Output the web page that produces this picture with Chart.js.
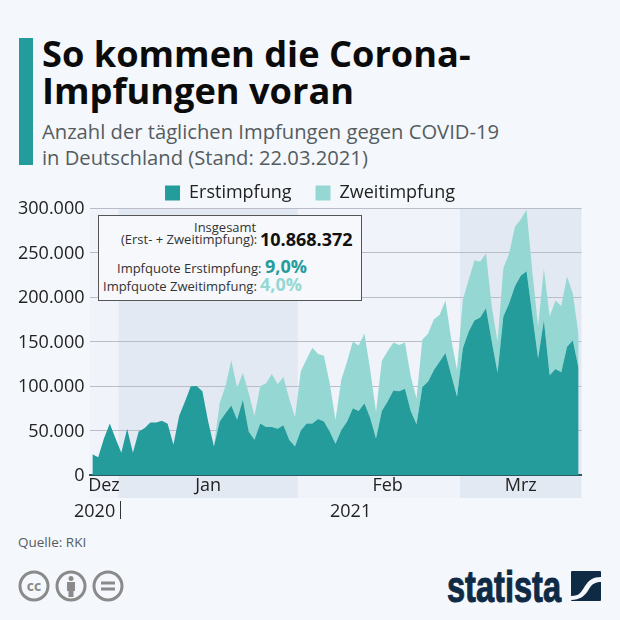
<!DOCTYPE html>
<html>
<head>
    <title>So kommen die Corona-Impfungen voran</title>
    <script src="https://cdnjs.cloudflare.com/ajax/libs/Chart.js/4.4.1/chart.umd.min.js"></script>
    <style>
        body {
            margin: 0;
            width: 620px;
            height: 620px;
            position: relative;
            overflow: hidden;
            background-color: #f4f7fb;
            font-family: "Open Sans", sans-serif;
            color: #111;
        }
        .abs { position: absolute; white-space: nowrap; }
        #bar { left: 19px; top: 38px; width: 14px; height: 127px; background: #239c9b; }
        #title { left: 42px; top: 35px; font-size: 36.2px; line-height: 37px; font-weight: 700; color: #0b0b0b; }
        #subtitle { left: 42px; top: 118px; font-size: 20.2px; line-height: 26px; color: #555c60; }
        #chart { position: absolute; left: 0; top: 160px; }
        #infobox { left: 98px; top: 215px; width: 262px; height: 84px; background: #f6f8fb; border: 1px solid #555; }
        #infobox span.t { position: absolute; white-space: nowrap; font-size: 13px; line-height: 18px; color: #333; }
        #infobox b { position: absolute; white-space: nowrap; font-size: 18px; line-height: 24px; }
        .year { font-size: 18px; line-height: 24px; color: #222; }
        #source { left: 18px; top: 533px; font-size: 13.5px; color: #555c60; }
        #logoText { left: 447px; top: 561px; font-family: "Liberation Sans", sans-serif; font-weight: 700; font-size: 44px; line-height: 52px; color: #0f2a45; transform: scaleX(0.74); transform-origin: left top; -webkit-text-stroke: 1px #0f2a45; }
    </style>
</head>
<body>
    <div class="abs" id="bar"></div>
    <div class="abs" id="title">So kommen die Corona-<br>Impfungen voran</div>
    <div class="abs" id="subtitle">Anzahl der täglichen Impfungen gegen COVID-19<br>in Deutschland (Stand: 22.03.2021)</div>

    <canvas id="chart" width="620" height="365"></canvas>

    <div class="abs" id="infobox">
        <span class="t" style="left:95px; top:2px;">Insgesamt</span>
        <span class="t" style="left:22px; top:14px;">(Erst- + Zweitimpfung):</span>
        <b style="left:161px; top:11px; color:#111;">10.868.372</b>
        <span class="t" style="left:18px; top:43px;">Impfquote Erstimpfung:</span>
        <b style="left:166px; top:38px; color:#239c9b;">9,0%</b>
        <span class="t" style="left:4px; top:61px;">Impfquote Zweitimpfung:</span>
        <b style="left:161px; top:56px; color:#95d8d3;">4,0%</b>
    </div>

    <div class="abs year" style="left:74px; top:498px;">2020</div>
    <div class="abs" style="left:120px; top:501px; width:1px; height:18px; background:#333;"></div>
    <div class="abs year" style="left:330px; top:498px;">2021</div>

    <div class="abs" id="source">Quelle: RKI</div>

    <svg class="abs" style="left:17px; top:569px;" width="110" height="34" viewBox="0 0 110 34">
        <g fill="none" stroke="#8a8a8a" stroke-width="3">
            <circle cx="17" cy="17" r="14"/>
            <circle cx="54" cy="17" r="14"/>
            <circle cx="91" cy="17" r="14"/>
        </g>
        <text x="17" y="22" text-anchor="middle" font-family="Open Sans" font-weight="700" font-size="14" fill="#8a8a8a">cc</text>
        <g fill="#8a8a8a">
            <circle cx="54" cy="9.5" r="2.5"/>
            <rect x="50" y="13" width="8" height="9"/>
            <rect x="51.5" y="20" width="5" height="8"/>
            <rect x="84" y="12.5" width="14" height="3"/>
            <rect x="84" y="18.5" width="14" height="3"/>
        </g>
    </svg>
    <div class="abs" id="logoText">statista</div>
    <svg class="abs" style="left:571px; top:571px;" width="30" height="30" viewBox="0 0 30 30">
        <rect width="30" height="30" rx="1" fill="#0f2a45"/>
        <path d="M0 25 C9 25 10 21 14 15 C18 9 22 6 30 6 L30 11 C24 11 21 13 18 18 C14 25 9 29 0 29 Z" fill="#f4f7fb"/>
    </svg>

    <script>
        const dayLabels = [
            '27.12.', '28.12.', '29.12.', '30.12.', '31.12.',
            '01.01.', '02.01.', '03.01.', '04.01.', '05.01.', '06.01.', '07.01.', '08.01.', '09.01.', '10.01.', '11.01.',
            '12.01.', '13.01.', '14.01.', '15.01.', '16.01.', '17.01.', '18.01.', '19.01.', '20.01.', '21.01.', '22.01.',
            '23.01.', '24.01.', '25.01.', '26.01.', '27.01.', '28.01.', '29.01.', '30.01.', '31.01.',
            '01.02.', '02.02.', '03.02.', '04.02.', '05.02.', '06.02.', '07.02.', '08.02.', '09.02.', '10.02.', '11.02.',
            '12.02.', '13.02.', '14.02.', '15.02.', '16.02.', '17.02.', '18.02.', '19.02.', '20.02.', '21.02.', '22.02.',
            '23.02.', '24.02.', '25.02.', '26.02.', '27.02.', '28.02.',
            '01.03.', '02.03.', '03.03.', '04.03.', '05.03.', '06.03.', '07.03.', '08.03.', '09.03.', '10.03.', '11.03.',
            '12.03.', '13.03.', '14.03.', '15.03.', '16.03.', '17.03.', '18.03.', '19.03.', '20.03.', '21.03.'
        ];

        const erstimpfung = [
            23300, 20000, 41000, 58000, 41000, 25000, 52000, 25000, 49000, 52600,
            59000, 59000, 61000, 57500, 34000, 66500, 82700, 99600, 100000, 94000,
            60000, 32000, 60000, 69500, 78000, 62000, 84600, 49000, 39500, 58000,
            54000, 54000, 52000, 56000, 39500, 32000, 50000, 58000, 58000, 63000,
            60000, 49000, 35000, 50600, 60000, 75000, 72000, 80600, 64000, 41000,
            72000, 82500, 95000, 94000, 97000, 72000, 57000, 99000, 105000, 118000,
            127500, 137000, 112500, 88000, 142500, 161000, 173600, 177000, 187500, 150000,
            115000, 178000, 193000, 212000, 224000, 229000, 180000, 131000, 174000, 112000,
            119000, 115500, 144000, 151000, 120000
        ];

        const zweitimpfung = [
            0, 0, 0, 0, 0, 0, 0, 0, 0, 0,
            0, 0, 0, 0, 0, 0, 0, 0, 0, 0,
            0, 1000, 21000, 30500, 51000, 36000, 30000, 43000, 27000, 41600,
            49000, 59500, 50000, 54000, 46500, 33000, 66500, 72000, 85000, 73000,
            74000, 54000, 27000, 56400, 67500, 75000, 73500, 78400, 54000, 30000,
            56000, 56500, 54000, 52000, 52000, 38600, 29000, 53000, 54000, 57000,
            52500, 59000, 39500, 30000, 54500, 58000, 67400, 63000, 61500, 39000,
            35000, 54500, 56000, 67000, 63000, 69000, 49000, 36000, 58000, 66000,
            77000, 74500, 79000, 53000, 37500
        ];

        const yTicks = [0, 50000, 100000, 150000, 200000, 250000, 300000];
        const monthTicks = { '29.12.': 'Dez', '16.01.': 'Jan', '16.02.': 'Feb', '11.03.': 'Mrz' };
        const monthBands = [
            { from: '27.12.', to: '01.01.', color: '#f0f3fa' },
            { from: '01.01.', to: '01.02.', color: '#e3e9f2' },
            { from: '01.02.', to: '01.03.', color: '#f0f3fa' },
            { from: '01.03.', to: null, color: '#e3e9f2' }
        ];

        // month backgrounds, they reach below the axis through the labels
        const bandPlugin = {
            id: 'monthBands',
            beforeDraw(chart) {
                const { ctx, chartArea, scales } = chart;
                monthBands.forEach(band => {
                    const x0 = band.from === dayLabels[0] ? chartArea.left
                        : scales.x.getPixelForValue(dayLabels.indexOf(band.from) - 0.5);
                    const x1 = band.to ? scales.x.getPixelForValue(dayLabels.indexOf(band.to) - 0.5) : chartArea.right;
                    ctx.fillStyle = band.color;
                    ctx.fillRect(x0, chartArea.top, x1 - x0, chartArea.bottom - chartArea.top + 23);
                });
            }
        };

        // wide gap between the legend items without a tall legend, centred on the page
        const legendFitPlugin = {
            id: 'legendFit',
            beforeInit(chart) {
                const fit = chart.legend.fit;
                chart.legend.fit = function () {
                    fit.call(this);
                    this.height = 48;
                };
            },
            afterLayout(chart) {
                chart.legend.left = 0;
                chart.legend.right = chart.width;
            }
        };

        new Chart(document.getElementById('chart'), {
            type: 'line',
            data: {
                labels: dayLabels,
                datasets: [{
                    label: 'Erstimpfung',
                    data: erstimpfung,
                    backgroundColor: '#239c9b',
                    borderWidth: 0,
                    pointRadius: 0,
                    fill: 'origin'
                }, {
                    label: 'Zweitimpfung',
                    data: zweitimpfung,
                    backgroundColor: '#95d8d3',
                    borderWidth: 0,
                    pointRadius: 0,
                    fill: '-1'
                }]
            },
            options: {
                responsive: false,
                animation: false,
                layout: { padding: { left: 0, right: 38.5, top: 0, bottom: 0 } },
                plugins: {
                    tooltip: { enabled: false },
                    legend: {
                        labels: {
                            boxWidth: 15,
                            boxHeight: 15,
                            padding: 24,
                            color: '#222',
                            font: { family: 'Open Sans', size: 18 }
                        }
                    }
                },
                scales: {
                    x: {
                        offset: true,
                        grid: { display: false, drawTicks: false },
                        border: { color: '#2a5a5f', width: 2 },
                        afterFit(scale) { scale.height = 50; },
                        afterBuildTicks(scale) {
                            scale.ticks = dayLabels.map((d, i) => ({ value: i })).filter(t => monthTicks[dayLabels[t.value]]);
                        },
                        ticks: {
                            autoSkip: false,
                            maxRotation: 0,
                            padding: 0,
                            color: '#222',
                            font: { family: 'Open Sans', size: 18 },
                            callback(value) { return monthTicks[dayLabels[value]]; }
                        }
                    },
                    y: {
                        stacked: true,
                        min: 0,
                        max: 300000,
                        grid: { color: '#b9bdc8', drawTicks: false },
                        border: { display: false },
                        afterFit(scale) { scale.width = 89.5; },
                        afterBuildTicks(scale) { scale.ticks = yTicks.map(v => ({ value: v })); },
                        ticks: {
                            padding: 5,
                            labelOffset: 1,
                            color: '#222',
                            font: { family: 'Open Sans', size: 18 },
                            callback(value) { return value === 0 ? '0' : value.toLocaleString('de-DE'); }
                        }
                    }
                }
            },
            plugins: [legendFitPlugin, bandPlugin]
        });
    </script>
</body>
</html>
